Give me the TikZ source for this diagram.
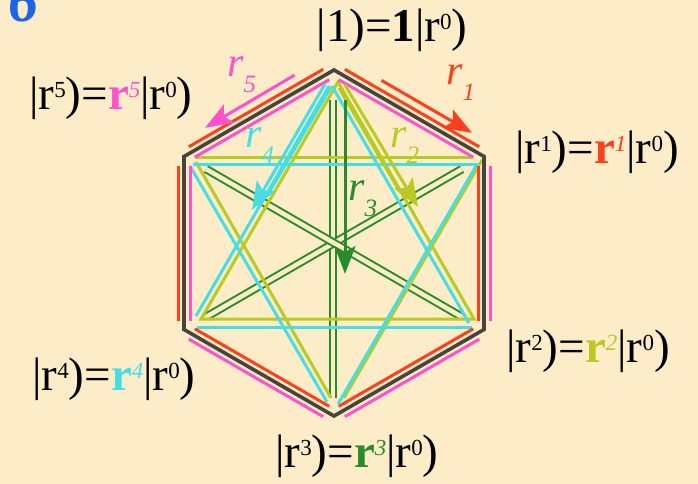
\documentclass[tikz,border=0pt]{standalone}
\usepackage{fontspec}
\setmainfont{Liberation Serif}
\usepackage{xcolor}
\usetikzlibrary{arrows.meta}

\definecolor{paper}{RGB}{252,237,200}
\definecolor{hexgray}{RGB}{72,68,60}
\definecolor{rred}{RGB}{255,62,30}
\definecolor{rpink}{RGB}{255,80,205}
\definecolor{rcyan}{RGB}{70,222,228}
\definecolor{rlime}{RGB}{185,202,35}
\definecolor{rgreen}{RGB}{40,140,45}
\definecolor{sixblue}{RGB}{30,100,230}

\newcommand{\kup}[1]{\raisebox{12pt}{\fontsize{23}{23}\selectfont #1}}
\newcommand{\rsub}[1]{\raisebox{-16pt}{\fontsize{25}{25}\selectfont #1}}

\begin{document}
\begin{tikzpicture}[x=1pt, y=-1pt, >={Stealth[length=28pt, width=21pt, inset=6pt]},
  hexedge/.style={draw=hexgray, line width=3.6pt, line join=miter},
  side/.style={line width=3pt},
  star/.style={line width=3pt},
  diam/.style={draw=rgreen, line width=2pt, double=paper, double distance=4.5pt},
  ket/.style={font=\fontsize{47}{50}\selectfont, inner sep=0pt, anchor=base},
  rlab/.style={font=\fontsize{42}{46}\selectfont\itshape, inner sep=0pt, anchor=base west}]
  \useasboundingbox (0,0) rectangle (698,484);
  \fill[paper] (0,0) rectangle (698,484);
  \clip (0,0) rectangle (698,484);
  \node[font=\fontsize{60}{60}\selectfont\bfseries\itshape, text=sixblue, inner sep=0pt, anchor=base west] (fig) at (8,22) {6};
  % hexagon corners
  \coordinate (h0) at (334,70);
  \coordinate (h1) at (484,156.5);
  \coordinate (h2) at (484,329.5);
  \coordinate (h3) at (334,416);
  \coordinate (h4) at (184,329.5);
  \coordinate (h5) at (184,156.5);
  % r^3 diameters
  \draw[diam] (333,100) -- (333,398);
  \draw[diam] (462,169) -- (206,317);
  \draw[diam] (206,169) -- (462,317);
  % r^2 and r^4 stars
  \draw[star, rlime] (338,82) -- (474,319) -- (201,319) -- cycle;
  \draw[star, rlime] (195,157) -- (473,157);
  \draw[star, rlime] (196,162) -- (331,398);
  \draw[star, rlime] (482,160) -- (344,398);
  \draw[star, rcyan] (329,86) -- (196,316);
  \draw[star, rcyan] (332,86) -- (469,323);
  \draw[star, rcyan] (197,327) -- (472,327);
  \draw[star, rcyan] (193,164) -- (478,164);
  \draw[star, rcyan] (190,166) -- (327,402);
  \draw[star, rcyan] (476,166) -- (338,404);
  % hexagon
  \draw[hexedge] (h0) -- (h1) -- (h2) -- (h3) -- (h4) -- (h5) -- cycle;
  % r^1 and r^5 sides
  \draw[side, rred] (344.8,69.3) -- (479.2,146.8);
  \draw[side, rred] (478,165.5) -- (478,320.5);
  \draw[side, rred] (473.2,328.8) -- (338.8,406.3);
  \draw[side, rred] (329.2,406.3) -- (194.8,328.8);
  \draw[side, rred] (178,320.5) -- (178,165.5);
  \draw[side, rred] (188.8,146.8) -- (323.2,69.3);
  \draw[side, rpink] (338.8,79.7) -- (473.2,157.2);
  \draw[side, rpink] (490,165.5) -- (490,320.5);
  \draw[side, rpink] (479.2,339.2) -- (344.8,416.7);
  \draw[side, rpink] (323.2,416.7) -- (188.8,339.2);
  \draw[side, rpink] (190,320.5) -- (190,165.5);
  \draw[side, rpink] (194.8,157.2) -- (329.2,79.7);
  % arrows
  \draw[->, side, rred] (381.5,80.4) -- (472,132.8);
  \draw[->, side, rpink] (294.5,75.2) -- (205,127.8);
  \draw[star, rcyan] (331,87) -- (270,191);
  \draw[->, star, rcyan] (325,84) -- (252,210);
  \draw[star, rlime] (339,88) -- (400,192);
  \draw[->, star, rlime] (345,85) -- (418,207);
  \draw[->, star, rgreen] (345,100) -- (345,274);
  % labels
  \node[rlab, text=rred] (l1) at (446,85) {r\rsub{1}};
  \node[rlab, text=rlime] (l2) at (390,147) {r\rsub{2}};
  \node[rlab, text=rgreen] (l3) at (348,200) {r\rsub{3}};
  \node[rlab, text=rcyan] (l4) at (245,147) {r\rsub{4}};
  \node[rlab, text=rpink] (l5) at (227,77) {r\rsub{5}};
  \node[ket] (k0) at (392,42) {|1)=\textbf{1}|r\kup{0})};
  \node[ket] (k1) at (597,163) {|r\kup{1})=\textcolor{rred}{\textbf{r}\kup{\textit{1}}}|r\kup{0})};
  \node[ket] (k2) at (588,362) {|r\kup{2})=\textcolor{rlime}{\textbf{r}\kup{\textit{2}}}|r\kup{0})};
  \node[ket] (k3) at (357,467) {|r\kup{3})=\textcolor{rgreen}{\textbf{r}\kup{\textit{3}}}|r\kup{0})};
  \node[ket] (k4) at (114,390) {|r\kup{4})=\textcolor{rcyan}{\textbf{r}\kup{\textit{4}}}|r\kup{0})};
  \node[ket] (k5) at (111,110) {|r\kup{5})=\textcolor{rpink}{\textbf{r}\kup{\textit{5}}}|r\kup{0})};
\end{tikzpicture}
\end{document}
